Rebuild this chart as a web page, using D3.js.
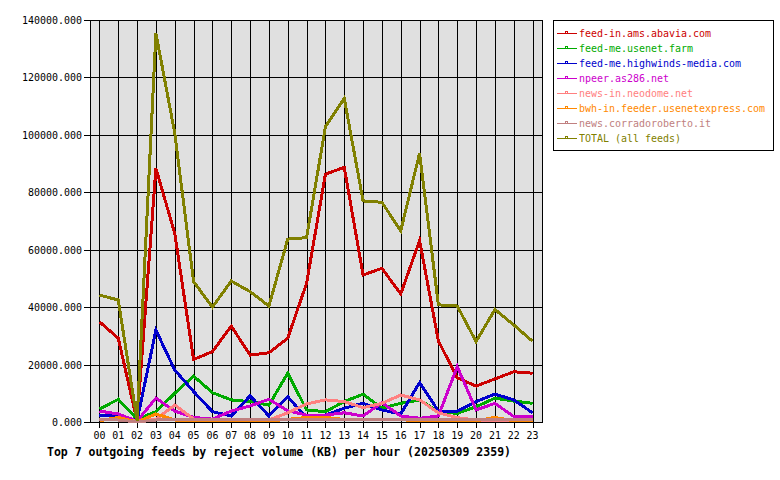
<!DOCTYPE html>
<html>
<head>
<meta charset="utf-8">
<script src="https://cdn.jsdelivr.net/npm/d3@7"></script>
<style>
    body { margin: 0; background: #fff; }
    text { font-family: "DejaVu Sans Mono", "Liberation Mono", monospace; }
</style>
</head>
<body>
<svg id="chart" width="780" height="480"></svg>
<script>
/**
 * Data.
 */
const hours = ['00', '01', '02', '03', '04', '05', '06', '07', '08', '09', '10', '11',
    '12', '13', '14', '15', '16', '17', '18', '19', '20', '21', '22', '23'];

const feedNames = ['feed-in.ams.abavia.com', 'feed-me.usenet.farm', 'feed-me.highwinds-media.com',
    'npeer.as286.net', 'news-in.neodome.net', 'bwh-in.feeder.usenetexpress.com',
    'news.corradoroberto.it', 'TOTAL (all feeds)'];

const feedColors = ['#cc0000', '#00aa00', '#0000cc', '#cc00cc', '#ff8080', '#ff8800', '#c08080', '#808000'];

const abavia = [34900, 29200, 300, 88300, 65700, 21800, 24500, 33400, 23300, 24100, 29200, 48300,
    86300, 88700, 51200, 53500, 44600, 63200, 28200, 15400, 12500, 15000, 17500, 17000];
const usenetFarm = [4500, 7900, 1000, 3600, 10000, 16000, 10200, 7700, 7100, 5900, 17000, 4200,
    3600, 7100, 9700, 4800, 6500, 7700, 3600, 3000, 5300, 8300, 7300, 6500];
const highwinds = [2400, 2000, 500, 32000, 18100, 10600, 3600, 2100, 9100, 2100, 8800, 1300,
    2400, 4800, 6500, 4200, 2800, 13700, 3800, 3800, 7100, 9700, 7700, 3200];
const npeer = [3800, 2800, 300, 8300, 3800, 1600, 1000, 3800, 5600, 7900, 3900, 2400,
    2400, 3200, 2100, 6700, 2100, 1300, 2100, 19300, 4200, 6500, 1900, 1900];
const neodome = [1000, 800, 300, 1000, 5900, 1000, 700, 700, 700, 700, 3200, 6300,
    7700, 7100, 5000, 6500, 9400, 7700, 3200, 1500, 700, 600, 600, 600];
const usenetExpress = [400, 1600, 0, 2800, 700, 400, 400, 400, 400, 400, 900, 1600,
    1600, 900, 1000, 1000, 800, 400, 400, 400, 400, 1600, 400, 400];
const corradoroberto = [700, 700, 0, 700, 700, 700, 700, 700, 700, 700, 700, 700,
    700, 700, 700, 700, 700, 700, 700, 700, 700, 700, 700, 700];
const total = [44200, 42500, 500, 135400, 100600, 48900, 40000, 49100, 45400, 40400, 63700, 64200,
    102800, 112700, 77000, 76500, 66600, 93600, 40800, 40400, 28000, 39200, 33800, 28100];

const yTicks = [0, 20000, 40000, 60000, 80000, 100000, 120000, 140000];

const title = 'Top 7 outgoing feeds by reject volume (KB) per hour (20250309 2359)';

const series = [abavia, usenetFarm, highwinds, npeer, neodome, usenetExpress, corradoroberto, total]
    .map((values, i) => ({ name: feedNames[i], color: feedColors[i], values: values }));

/**
 * Layout.
 */
const plot = { left: 90, right: 542, top: 20, bottom: 422 },
    charWidth = 6;

const svg = d3.select('#chart');

const xScale = d3.scalePoint().domain(hours).range([plot.left, plot.right]).padding(0.5),
    yScale = d3.scaleLinear().domain([0, 140000]).range([plot.bottom, plot.top]);

// Squeeze text into the fixed-width cell of the original bitmap font
function fixWidth(selection, w) {
    selection.each(function() {
        const t = d3.select(this);
        t.attr('textLength', t.text().length * w).attr('lengthAdjust', 'spacingAndGlyphs');
    });
}

svg.append('rect')
    .attr('width', 780).attr('height', 480).attr('fill', '#fff');

svg.append('rect')
    .attr('x', plot.left).attr('y', plot.top)
    .attr('width', plot.right - plot.left).attr('height', plot.bottom - plot.top)
    .attr('fill', '#e0e0e0');

// Grid
const grid = svg.append('g').attr('shape-rendering', 'crispEdges').attr('stroke', '#000');
grid.selectAll('.hgrid').data(yTicks).enter().append('line')
    .attr('class', 'hgrid')
    .attr('x1', plot.left - 6).attr('x2', plot.right)
    .attr('y1', d => Math.round(yScale(d)) + 0.5).attr('y2', d => Math.round(yScale(d)) + 0.5);
grid.selectAll('.vgrid').data(hours).enter().append('line')
    .attr('class', 'vgrid')
    .attr('x1', d => Math.round(xScale(d)) + 0.5).attr('x2', d => Math.round(xScale(d)) + 0.5)
    .attr('y1', plot.top).attr('y2', plot.bottom + 6);
grid.append('rect')
    .attr('x', plot.left + 0.5).attr('y', plot.top + 0.5)
    .attr('width', plot.right - plot.left).attr('height', plot.bottom - plot.top)
    .attr('fill', 'none');

// Axis labels
const fmt = d3.format('.3f');
svg.append('g').selectAll('text').data(yTicks).enter().append('text')
    .attr('x', plot.left - 8).attr('y', d => yScale(d) + 4)
    .attr('text-anchor', 'end')
    .attr('font-size', 11)
    .text(fmt)
    .call(fixWidth, charWidth);

svg.append('g').selectAll('text').data(hours).enter().append('text')
    .attr('x', d => xScale(d)).attr('y', plot.bottom + 17)
    .attr('text-anchor', 'middle')
    .attr('font-size', 11)
    .text(d => d)
    .call(fixWidth, charWidth);

// Lines
const line = d3.line().x((d, i) => xScale(hours[i])).y(d => yScale(d));
svg.append('g').selectAll('path').data(series).enter().append('path')
    .attr('d', d => line(d.values))
    .attr('fill', 'none')
    .attr('stroke', d => d.color)
    .attr('stroke-width', 3)
    .attr('stroke-linejoin', 'miter')
    .attr('shape-rendering', 'crispEdges');

// Legend
const legend = svg.append('g').attr('transform', 'translate(553,20)');
legend.append('rect')
    .attr('x', 0.5).attr('y', 0.5).attr('width', 220).attr('height', 130)
    .attr('fill', '#fff').attr('stroke', '#000').attr('shape-rendering', 'crispEdges');

const rows = legend.selectAll('.row').data(series).enter().append('g')
    .attr('class', 'row')
    .attr('transform', (d, i) => 'translate(0,' + (13 + 15 * i) + ')');
rows.append('line')
    .attr('x1', 4).attr('x2', 24).attr('y1', 0.5).attr('y2', 0.5)
    .attr('stroke', d => d.color).attr('shape-rendering', 'crispEdges');
rows.append('rect')
    .attr('x', 12.5).attr('y', -1.5).attr('width', 2).attr('height', 2)
    .attr('fill', 'none').attr('stroke', d => d.color).attr('shape-rendering', 'crispEdges');
rows.append('text')
    .attr('x', 26).attr('y', 4)
    .attr('font-size', 10)
    .attr('fill', d => d.color)
    .text(d => d.name)
    .call(fixWidth, charWidth);

// Title
svg.append('text')
    .attr('x', 47).attr('y', 456)
    .attr('font-size', 12).attr('font-weight', 'bold')
    .text(title)
    .call(fixWidth, 464 / title.length);
</script>
</body>
</html>
